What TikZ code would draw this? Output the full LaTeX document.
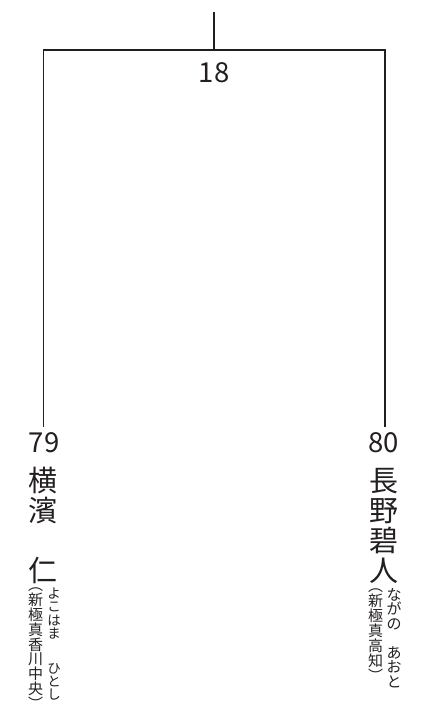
\documentclass[tikz,border=0pt]{standalone}
\usepackage{fontspec}
\setmainfont{Noto Sans CJK JP}
\definecolor{ink}{RGB}{35,31,32}
\begin{document}
\lineskiplimit=-20pt\relax
\begin{tikzpicture}[x=1pt,y=1pt,
  bracket/.style={draw=ink,line width=1.2pt},
  num/.style={font=\fontsize{27.5}{27.5}\selectfont,text=ink,inner sep=0pt},
  namecol/.style={font=\fontsize{29}{30}\selectfont,text=ink,inner sep=0pt,align=center,anchor=north},
  smallcol/.style={font={\fontsize{15}{#1}\selectfont},text=ink,inner sep=0pt,align=center,anchor=north},
  smallcol/.default=15,
  kanacol/.style={font={\fontsize{13.5}{#1}\selectfont},text=ink,inner sep=0pt,align=center,anchor=north}]
\useasboundingbox (0,0) rectangle (427,711);
\coordinate (top) at (214,699);
\coordinate (J) at (214,661);
\coordinate (LT) at (43.5,661);
\coordinate (RT) at (385,661);
\coordinate (LB) at (43.5,284);
\coordinate (RB) at (385,284);
\draw[bracket] (top) -- (J);
\draw[bracket] (LB) -- (LT) -- (RT) -- (RB);
\node[num] (score) at (214,638) {18};
\node[num] (s79) at (44,268) {79};
\node[num] (s80) at (383.5,268) {80};
\node[namecol] (nameL) at (43,244) {横\\濱\\　\\仁};
\node[namecol] (nameR) at (383.5,243) {長\\野\\碧\\人};
\node[smallcol=14.8] (affL) at (35.5,123) {︵\\新\\極\\真\\香\\川\\中\\央\\︶};
\node[kanacol=13.2] (kanaL) at (54,123) {よ\\こ\\は\\ま\\[22pt]ひ\\と\\し};
\node[smallcol=15] (affR) at (375.5,122) {︵\\新\\極\\真\\高\\知\\︶};
\node[smallcol=14.5] (kanaR) at (394,123) {な\\が\\の\\[14.5pt]あ\\お\\と};
\end{tikzpicture}
\end{document}
